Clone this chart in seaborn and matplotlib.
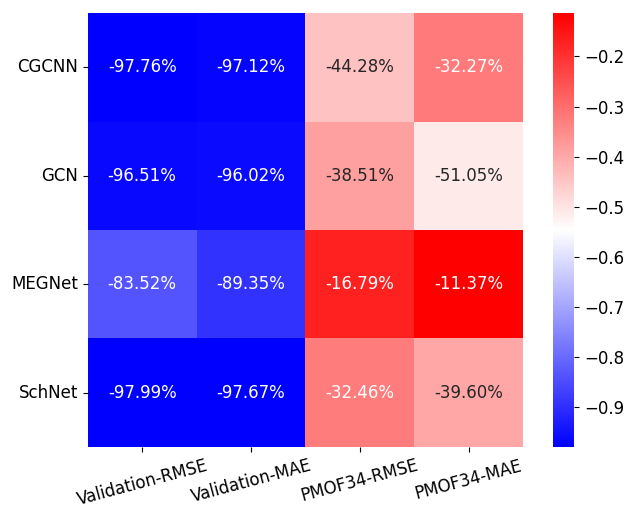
import numpy as np
import pandas as pd
import matplotlib
matplotlib.use("Agg")
import matplotlib.pyplot as plt
import seaborn as sns

# models (rows) and metrics (columns)
models = ["CGCNN", "GCN", "MEGNet", "SchNet"]
metrics = ["Validation-RMSE", "Validation-MAE", "PMOF34-RMSE", "PMOF34-MAE"]

# relative change per model, as fractions
cgcnn = [-0.9776, -0.9712, -0.4428, -0.3227]
gcn = [-0.9651, -0.9602, -0.3851, -0.5105]
megnet = [-0.8352, -0.8935, -0.1679, -0.1137]
schnet = [-0.9799, -0.9767, -0.3246, -0.3960]

df = pd.DataFrame([cgcnn, gcn, megnet, schnet], index=models, columns=metrics)

plt.rcParams['font.family'] = ['DejaVu Sans']
fig = plt.figure(figsize=(6.31, 5.09), dpi=100)
ax = fig.add_axes([0.139, 0.122, 0.690, 0.852])
cax = fig.add_axes([0.876, 0.122, 0.034, 0.852])

sns.heatmap(df, annot=True, fmt=".2%", cmap="bwr", ax=ax, cbar_ax=cax,
            annot_kws={"size": 12})

ax.tick_params(axis='both', labelsize=12)
plt.setp(ax.get_xticklabels(), rotation=15, ha='center')
plt.setp(ax.get_yticklabels(), rotation=0)
cax.tick_params(labelsize=12)

fig.savefig("out.png", dpi=100)
